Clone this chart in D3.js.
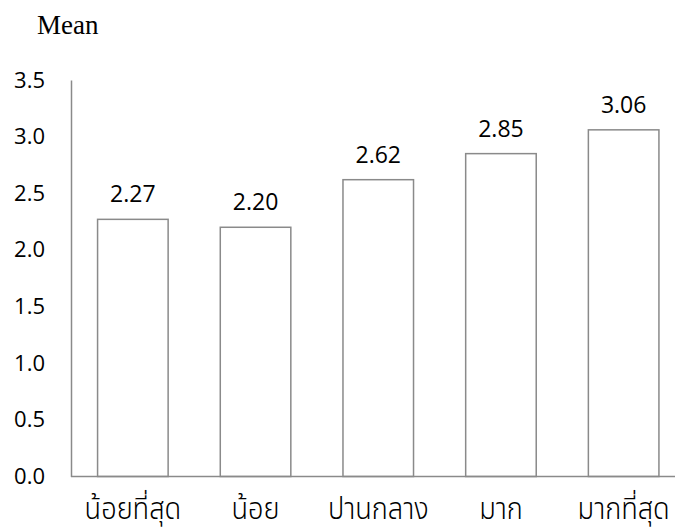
<!DOCTYPE html>
<html>
<head>
<meta charset="utf-8">
<script src="https://cdn.jsdelivr.net/npm/d3@7"></script>
<style>
  html, body { margin: 0; padding: 0; background: #fff; }
  svg { display: block; }
</style>
</head>
<body>
<svg id="chart" width="675" height="529"></svg>
<script>
// Mean score for each response level
const categories = ["น้อยที่สุด", "น้อย", "ปานกลาง", "มาก", "มากที่สุด"];
const means = [2.27, 2.20, 2.62, 2.85, 3.06];
const yTicks = [0, 0.5, 1.0, 1.5, 2.0, 2.5, 3.0, 3.5];
const yTitle = "Mean";

const svg = d3.select("#chart");
const axisColor = "#8a8a8a";
const numFont = "'Open Sans', 'Liberation Sans', sans-serif";
const thaiFont = "'Noto Sans Thai', 'Noto Serif Thai', 'Loma', 'Garuda', 'Norasi', 'DejaVu Sans', sans-serif";

const x = d3.scaleBand()
  .domain(categories)
  .range([71.5, 685])
  .paddingInner(0.425)
  .paddingOuter(0.2125);

const y = d3.scaleLinear()
  .domain([0, 3.5])
  .range([476.5, 80]);

// y axis: line plus labels, no tick marks
const yAxis = d3.axisLeft(y)
  .tickValues(yTicks)
  .tickFormat(d3.format(".1f"))
  .tickSize(0)
  .tickPadding(26);

const gy = svg.append("g")
  .attr("transform", "translate(71,0)")
  .call(yAxis);
gy.select(".domain").attr("stroke", axisColor).attr("stroke-width", 1.5);
gy.selectAll("text")
  .attr("fill", "#000")
  .style("font-family", numFont)
  .style("font-size", "22px");

// bars
svg.append("g")
  .selectAll("rect")
  .data(means)
  .join("rect")
  .attr("x", (d, i) => x(categories[i]))
  .attr("y", d => y(d))
  .attr("width", x.bandwidth())
  .attr("height", d => y(0) - y(d))
  .attr("fill", "#fff")
  .attr("stroke", axisColor)
  .attr("stroke-width", 1.5);

// x axis line and category labels (tall, narrow Thai lettering)
const labelScaleY = 1.05;
const xAxis = d3.axisBottom(x).tickSize(0);
const gx = svg.append("g")
  .attr("transform", `translate(0,${y(0)})`)
  .call(xAxis);
gx.select(".domain")
  .attr("d", `M71,0H${x.range()[1]}`)
  .attr("stroke", axisColor)
  .attr("stroke-width", 1.5);
gx.selectAll("text")
  .attr("fill", "#000")
  .attr("y", 42.5 / labelScaleY)
  .attr("dy", 0)
  .attr("transform", `scale(0.97,${labelScaleY})`)
  .style("font-family", thaiFont)
  .style("font-weight", 300)
  .style("font-size", "28px");

// value labels above each bar
svg.append("g")
  .selectAll("text")
  .data(means)
  .join("text")
  .attr("x", (d, i) => x(categories[i]) + x.bandwidth() / 2)
  .attr("y", d => y(d) - 17)
  .attr("text-anchor", "middle")
  .style("font-family", numFont)
  .style("font-size", "23px")
  .attr("fill", "#000")
  .text(d => d.toFixed(2));

// axis title
svg.append("text")
  .attr("x", 37)
  .attr("y", 34)
  .style("font-family", "'Liberation Serif', 'Times New Roman', serif")
  .style("font-size", "27px")
  .attr("fill", "#000")
  .text(yTitle);
</script>
</body>
</html>
